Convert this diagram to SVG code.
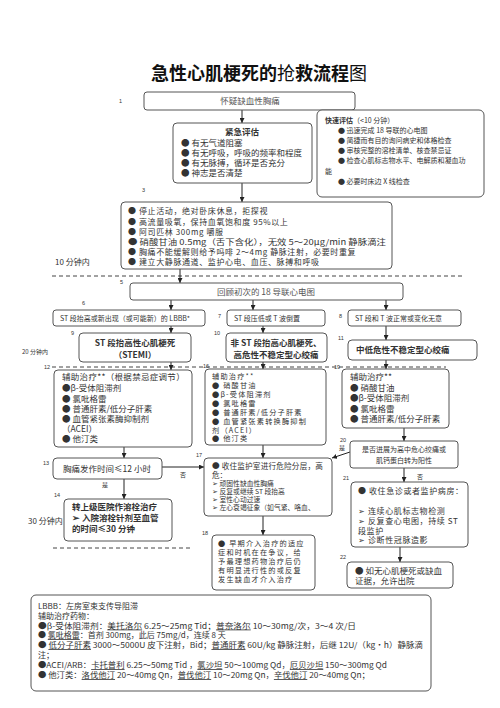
<svg xmlns="http://www.w3.org/2000/svg" width="500" height="708" viewBox="0 0 500 708">
<style>
.box{fill:#fff;stroke:#555;stroke-width:1}
.t{font-family:"Noto Sans CJK SC","Liberation Sans",sans-serif;fill:#333;font-size:8.5px}
.b{font-weight:bold}
.s{font-size:7px}
.d{font-size:7.2px;letter-spacing:1.2px}
.e{font-size:8px;letter-spacing:0.6px}
.n{font-family:"Liberation Sans",sans-serif;font-size:5.5px;fill:#333}
.c{text-anchor:middle}
.ln{stroke:#222;stroke-width:1;fill:none}
.dash{stroke:#444;stroke-width:1;stroke-dasharray:4 3;fill:none}
.u{text-decoration:underline}
</style>
<defs>
<marker id="ah" viewBox="0 0 6 6" refX="6" refY="3" markerWidth="5" markerHeight="5" orient="auto">
<path d="M0,0 L6,3 L0,6 z" fill="#222"/>
</marker>
</defs>
<rect width="500" height="708" fill="#fff"/>
<text class="t b c" x="259" y="80" style="font-size:18px;fill:#111">急性心肌梗死的<tspan font-weight="normal">抢</tspan>救流程<tspan font-weight="normal">图</tspan></text>

<g id="labels">
<text class="n" x="119" y="103">1</text>
<text class="n" x="142" y="192">3</text>
<text class="n" x="120" y="284">5</text>
<text class="n" x="82" y="305">6</text>
<text class="n" x="218" y="318">7</text>
<text class="n" x="339" y="318">8</text>
<text class="n" x="71" y="335">9</text>
<text class="n" x="214" y="335">10</text>
<text class="n" x="338" y="340">11</text>
<text class="n" x="44" y="369">12</text>
<text class="n" x="203" y="368">16</text>
<text class="n" x="334" y="369">19</text>
<text class="n" x="43" y="465">13</text>
<text class="n" x="54" y="497">14</text>
<text class="n" x="196" y="457">17</text>
<text class="n" x="202" y="535">18</text>
<text class="n" x="340" y="442">20</text>
<text class="n" x="343" y="480">21</text>
<text class="n" x="340" y="559">22</text>
<text class="t" x="55" y="265" style="font-size:8px">10 分钟内</text>
<text class="t" x="22" y="354" style="font-size:6px">20 分钟内</text>
<text class="t" x="28" y="524" style="font-size:8px">30 分钟内</text>
<text class="t" x="180" y="477" style="font-size:6px">否</text>
<text class="t" x="102" y="487" style="font-size:6px">是</text>
<text class="t" x="339" y="450" style="font-size:6px">是</text>
<text class="t" x="417" y="479" style="font-size:6px">否</text>
</g>

<g id="connectors">
<line class="dash" x1="52" y1="276" x2="463" y2="276"/>
<line class="dash" x1="52" y1="367" x2="446" y2="367"/>
<line class="dash" x1="53" y1="548" x2="190" y2="548"/>
<line class="ln" x1="242" y1="110" x2="242" y2="123" marker-end="url(#ah)"/>
<line class="ln" x1="242" y1="183" x2="242" y2="202" marker-end="url(#ah)"/>
<line class="ln" x1="180" y1="269" x2="180" y2="283" marker-end="url(#ah)"/>
<line class="ln" x1="171" y1="300" x2="171" y2="310" marker-end="url(#ah)"/>
<line class="ln" x1="253" y1="300" x2="253" y2="310" marker-end="url(#ah)"/>
<line class="ln" x1="386" y1="300" x2="386" y2="310" marker-end="url(#ah)"/>
<line class="ln" x1="171" y1="326" x2="171" y2="333" marker-end="url(#ah)"/>
<line class="ln" x1="263" y1="326" x2="263" y2="333" marker-end="url(#ah)"/>
<line class="ln" x1="386" y1="326" x2="386" y2="340" marker-end="url(#ah)"/>
<line class="ln" x1="171" y1="362" x2="171" y2="370" marker-end="url(#ah)"/>
<line class="ln" x1="263" y1="362" x2="263" y2="369" marker-end="url(#ah)"/>
<line class="ln" x1="386" y1="360" x2="386" y2="369" marker-end="url(#ah)"/>
<line class="ln" x1="124" y1="447" x2="124" y2="458" marker-end="url(#ah)"/>
<line class="ln" x1="162" y1="467" x2="204" y2="467" marker-end="url(#ah)"/>
<line class="ln" x1="124" y1="479" x2="124" y2="499" marker-end="url(#ah)"/>
<line class="ln" x1="263" y1="445" x2="263" y2="458" marker-end="url(#ah)"/>
<line class="ln" x1="263" y1="516" x2="263" y2="535" marker-end="url(#ah)"/>
<line class="ln" x1="404" y1="428" x2="404" y2="441" marker-end="url(#ah)"/>
<line class="ln" x1="350" y1="452" x2="332" y2="458" marker-end="url(#ah)"/>
<line class="ln" x1="404" y1="468" x2="404" y2="482" marker-end="url(#ah)"/>
<line class="ln" x1="400" y1="547" x2="400" y2="562" marker-end="url(#ah)"/>
</g>

<g id="n1">
<rect class="box" x="144" y="92" width="211" height="18" rx="3"/>
<text class="t c" x="250" y="104" style="font-size:8.5px;fill:#555">怀疑缺血性胸痛</text>
</g>

<g id="n2">
<rect class="box" x="173" y="123" width="139" height="60" rx="4"/>
<text class="t b c" x="242" y="135">紧急评估</text>
<text class="t" x="181" y="145.5">● 有无气道阻塞</text>
<text class="t" x="181" y="155.5">● 有无呼吸，呼吸的频率和程度</text>
<text class="t" x="181" y="165.5">● 有无脉搏，循环是否充分</text>
<text class="t" x="181" y="175.5">● 神志是否清楚</text>
</g>

<g id="n2b">
<rect class="box" x="317" y="110" width="167" height="87" rx="5"/>
<text class="t s" x="325" y="123"><tspan font-weight="bold">快速评估</tspan>（&lt;10 分钟）</text>
<text class="t s" x="338" y="133">● 迅速完成 18 导联的心电图</text>
<text class="t s" x="338" y="143">● 简捷而有目的询问病史和体格检查</text>
<text class="t s" x="338" y="153">● 审核完整的溶栓清单、核查禁忌证</text>
<text class="t s" x="338" y="163">● 检查心肌标志物水平、电解质和凝血功</text>
<text class="t s" x="325" y="174">能</text>
<text class="t s" x="338" y="184">● 必要时床边 X 线检查</text>
</g>

<g id="n3">
<rect class="box" x="121" y="202" width="271" height="67" rx="4"/>
<text class="t e" x="128" y="214">● 停止活动，绝对卧床休息，拒探视</text>
<text class="t e" x="128" y="224.5">● 高流量吸氧，保持血氧饱和度 95%以上</text>
<text class="t e" x="128" y="234.5">● 阿司匹林 300mg 嚼服</text>
<text class="t" x="128" y="244.5" style="font-size:8px" textLength="258" lengthAdjust="spacingAndGlyphs">● 硝酸甘油 0.5mg（舌下含化），无效 5～20μg/min 静脉滴注</text>
<text class="t e" x="128" y="254.5">● 胸痛不能缓解则给予吗啡 2～4mg 静脉注射，必要时重复</text>
<text class="t e" x="128" y="264.5">● 建立大静脉通道、监护心电、血压、脉搏和呼吸</text>
</g>

<g id="n5">
<rect class="box" x="130" y="283" width="273" height="17" rx="3"/>
<text class="t c" x="266" y="295" style="font-size:8.5px;fill:#555">回顾初次的 18 导联心电图</text>
</g>

<g id="n6">
<rect class="box" x="53" y="310" width="152" height="16" rx="3"/>
<text class="t s" x="60" y="321">ST 段抬高或新出现（或可能新）的 LBBB*</text>
</g>
<g id="n7">
<rect class="box" x="227" y="310" width="98" height="16" rx="3"/>
<text class="t s" x="234" y="321">ST 段压低或 T 波倒置</text>
</g>
<g id="n8">
<rect class="box" x="348" y="310" width="113" height="16" rx="3"/>
<text class="t s" x="355" y="321">ST 段和 T 波正常或变化无意</text>
</g>

<g id="n9">
<rect class="box" x="79" y="333" width="112" height="29" rx="4"/>
<text class="t b c" x="135" y="346" style="font-size:8.5px">ST 段抬高性心肌梗死</text>
<text class="t b c" x="135" y="358" style="font-size:8.5px">（STEMI）</text>
</g>
<g id="n10">
<rect class="box" x="226" y="333" width="101" height="29" rx="4"/>
<text class="t b c" x="276" y="346" style="font-size:8.5px">非 ST 段抬高心肌梗死、</text>
<text class="t b c" x="276" y="358" style="font-size:8.5px">高危性不稳定型心绞痛</text>
</g>
<g id="n11">
<rect class="box" x="348" y="340" width="129" height="20" rx="4"/>
<text class="t b" x="356" y="353" style="font-size:8.5px">中低危性不稳定型心绞痛</text>
</g>

<g id="n12">
<rect class="box" x="54" y="370" width="138" height="77" rx="4"/>
<text class="t" x="62" y="380" letter-spacing="0.3">辅助治疗**（根据禁忌症调节）</text>
<text class="t" x="62" y="391">●β-受体阻滞剂</text>
<text class="t" x="62" y="402">● 氯吡格雷</text>
<text class="t" x="62" y="412">● 普通肝素/低分子肝素</text>
<text class="t" x="62" y="422">● 血管紧张素酶抑制剂</text>
<text class="t" x="62" y="432">（ACEI）</text>
<text class="t" x="62" y="442">● 他汀类</text>
</g>

<g id="n16">
<rect class="box" x="205" y="369" width="121" height="76" rx="4"/>
<text class="t d" x="212" y="378.5">辅助治疗**</text>
<text class="t d" x="212" y="387.5">● 硝酸甘油</text>
<text class="t d" x="212" y="396.5">●β-受体阻滞剂</text>
<text class="t d" x="212" y="405.5">● 氯吡格雷</text>
<text class="t d" x="212" y="414.5">● 普通肝素/低分子肝素</text>
<text class="t d" x="212" y="423.5">● 血管紧张素转换酶抑制</text>
<text class="t d" x="212" y="432.5">剂（ACEI）</text>
<text class="t d" x="212" y="441">● 他汀类</text>
</g>

<g id="n19">
<rect class="box" x="342" y="369" width="107" height="59" rx="4"/>
<text class="t" x="350" y="380">辅助治疗**</text>
<text class="t" x="350" y="390.5">● 硝酸甘油</text>
<text class="t" x="350" y="401">●β-受体阻滞剂</text>
<text class="t" x="350" y="411.5">● 氯吡格雷</text>
<text class="t" x="350" y="422">● 普通肝素/低分子肝素</text>
</g>

<g id="n13">
<rect class="box" x="53" y="458" width="109" height="21" rx="4"/>
<text class="t c" x="107" y="472">胸痛发作时间≤12 小时</text>
</g>

<g id="n14">
<rect class="box" x="64" y="499" width="108" height="42" rx="4"/>
<text class="t b" x="72" y="510">转上级医院作溶栓治疗</text>
<text class="t b" x="72" y="521">➢ 入院溶栓针剂至血管</text>
<text class="t b" x="72" y="532">的时间≤30 分钟</text>
</g>

<g id="n17">
<rect class="box" x="204" y="458" width="128" height="58" rx="4"/>
<text class="t" x="212" y="468.5" style="font-size:7.6px" letter-spacing="0.2">● 收住监护室进行危险分层，高</text>
<text class="t" x="212" y="478" style="font-size:7.6px">危：</text>
<text class="t" x="212" y="486" style="font-size:6.8px">➢ 顽固性缺血性胸痛</text>
<text class="t" x="212" y="494" style="font-size:6.8px">➢ 反复或继续 ST 段抬高</text>
<text class="t" x="212" y="502" style="font-size:6.8px">➢ 室性心动过速</text>
<text class="t" x="212" y="510" style="font-size:6.8px">➢ 左心衰竭征象（如气紧、咯血、</text>
</g>

<g id="n18">
<rect class="box" x="212" y="535" width="103" height="55" rx="4"/>
<text class="t d" x="218" y="546">● 早期介入治疗的适应</text>
<text class="t d" x="218" y="555">症和时机在在争议，给</text>
<text class="t d" x="218" y="564">予最理想药物治疗后仍</text>
<text class="t d" x="218" y="573">有明显进行性的或反复</text>
<text class="t d" x="218" y="582">发生缺血才介入治疗</text>
</g>

<g id="n20">
<rect class="box" x="350" y="441" width="108" height="27" rx="3"/>
<text class="t s c" x="404" y="452">是否进展为高中危心绞痛或</text>
<text class="t s c" x="404" y="463">肌钙蛋白转为阳性</text>
</g>

<g id="n21">
<rect class="box" x="351" y="482" width="117" height="65" rx="4"/>
<text class="t e" x="358" y="494">● 收住急诊或者监护病房：</text>
<text class="t e" x="358" y="514">➢ 连续心肌标志物检测</text>
<text class="t e" x="358" y="524">➢ 反复查心电图，持续 ST</text>
<text class="t e" x="358" y="533.5">段监护</text>
<text class="t e" x="358" y="543">➢ 诊断性冠脉造影</text>
</g>

<g id="n22">
<rect class="box" x="347" y="562" width="106" height="26" rx="4"/>
<text class="t" x="355" y="574">● 如无心肌梗死或缺血</text>
<text class="t" x="355" y="584">证据，允许出院</text>
</g>

<g id="n23">
<rect class="box" x="31" y="595" width="400" height="96" rx="5"/>
<text class="t" x="38" y="609" style="font-size:8px">LBBB：左房室束支传导阻滞</text>
<text class="t" x="38" y="618.5" style="font-size:8px">辅助治疗药物：</text>
<text class="t" x="38" y="628.5" style="font-size:8px" textLength="318" lengthAdjust="spacingAndGlyphs">●β-受体阻滞剂：<tspan class="u">美托洛尔</tspan> 6.25～25mg Tid；<tspan class="u">普奈洛尔</tspan> 10～30mg/次，3～4 次/日</text>
<text class="t" x="38" y="638" style="font-size:8px">● <tspan class="u">氯吡格雷</tspan>：首剂 300mg，此后 75mg/d，连续 8 天</text>
<text class="t" x="38" y="648" style="font-size:8px" textLength="385" lengthAdjust="spacingAndGlyphs">● <tspan class="u">低分子肝素</tspan> 3000～5000U 皮下注射，Bid；<tspan class="u">普通肝素</tspan> 60U/kg 静脉注射，后继 12U/（kg・h）静脉滴</text>
<text class="t" x="38" y="657.5" style="font-size:8px">注；</text>
<text class="t" x="38" y="668" style="font-size:8px" textLength="349" lengthAdjust="spacingAndGlyphs">●ACEI/ARB：<tspan class="u">卡托普利</tspan> 6.25～50mg Tid ，<tspan class="u">氯沙坦</tspan> 50～100mg Qd，<tspan class="u">厄贝沙坦</tspan> 150～300mg Qd</text>
<text class="t" x="38" y="678" style="font-size:8px" textLength="332" lengthAdjust="spacingAndGlyphs">● 他汀类：<tspan class="u">洛伐他汀</tspan> 20～40mg Qn，<tspan class="u">普伐他汀</tspan> 10～20mg Qn，<tspan class="u">辛伐他汀</tspan> 20～40mg Qn；</text>
</g>
</svg>
